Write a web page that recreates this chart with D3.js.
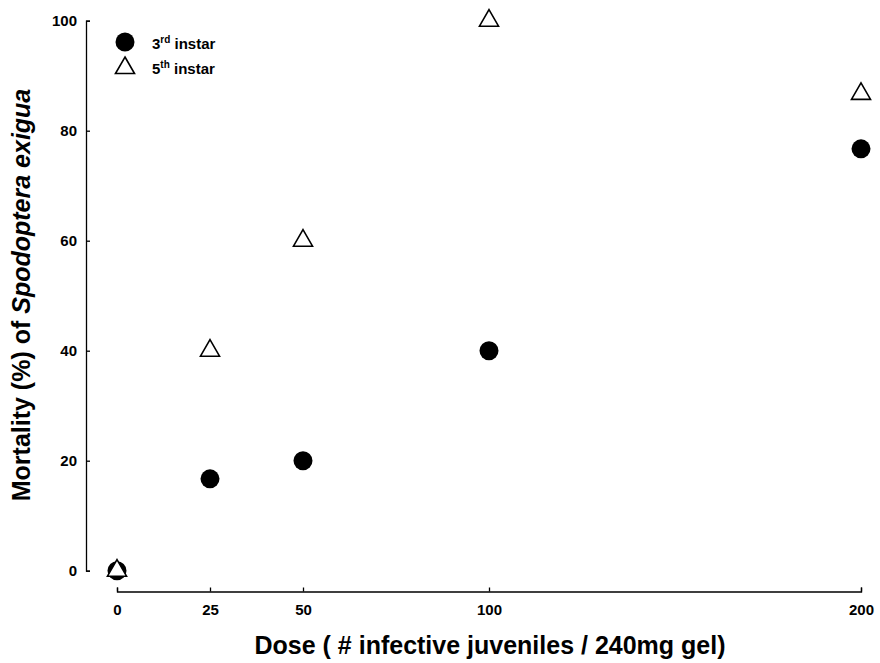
<!DOCTYPE html>
<html>
<head>
<meta charset="utf-8">
<script src="https://cdn.jsdelivr.net/npm/d3@7"></script>
<style>
  html, body { margin: 0; padding: 0; background: #fff; }
  svg { display: block; }
  text { font-family: "Liberation Sans", Arial, Helvetica, sans-serif; font-weight: bold; fill: #000; }
</style>
</head>
<body>
<svg id="chart" width="880" height="663"></svg>
<script>
// Dose levels (infective juveniles per 240 mg gel)
const doses = [0, 25, 50, 100, 200];
// Mortality (%) of Spodoptera exigua larvae
const instar3 = [0, 16.7, 20, 40, 76.7];
const instar5 = [0, 40, 60, 100, 86.7];
// Axis ticks
const xTicks = [0, 25, 50, 100, 200];
const yTicks = [0, 20, 40, 60, 80, 100];

const svg = d3.select("#chart");

const x = d3.scaleLinear().domain([0, 200]).range([117, 861]);
const y = d3.scaleLinear().domain([0, 100]).range([570.7, 20.7]);

const axisX = 86;      // position of the vertical axis line
const axisY = 591.5;   // position of the horizontal axis line

// Y axis with inward ticks
const gy = svg.append("g")
  .attr("transform", `translate(${axisX},0)`)
  .call(d3.axisLeft(y).tickValues(yTicks).tickSize(-4).tickSizeOuter(-4).tickPadding(9));
gy.selectAll("text").style("font-size", "15px");

// X axis with inward ticks
const gx = svg.append("g")
  .attr("transform", `translate(0,${axisY})`)
  .call(d3.axisBottom(x).tickValues(xTicks).tickSize(-4).tickSizeOuter(-4).tickPadding(13));
gx.selectAll("text").style("font-size", "15px");

svg.selectAll(".domain, .tick line").attr("stroke", "#000").attr("stroke-width", 1.3);

// Axis titles
svg.append("text")
  .attr("x", 490).attr("y", 654)
  .attr("text-anchor", "middle")
  .style("font-size", "25px")
  .text("Dose ( # infective juveniles / 240mg gel)");

const yTitle = svg.append("text")
  .attr("transform", "translate(30,295) rotate(-90)")
  .attr("text-anchor", "middle")
  .style("font-size", "25px");
yTitle.append("tspan").text("Mortality (%) of ");
yTitle.append("tspan").style("font-style", "italic").text("Spodoptera exigua");

// Markers
const tri = d3.symbol().type(d3.symbolTriangle).size(157);
const r = 9.5;

const pts3 = doses.map((d, i) => ({ dose: d, v: instar3[i] }));
const pts5 = doses.map((d, i) => ({ dose: d, v: instar5[i] }));

svg.append("g").selectAll("circle")
  .data(pts3).join("circle")
  .attr("cx", d => x(d.dose))
  .attr("cy", d => y(d.v))
  .attr("r", r)
  .attr("fill", "#000");

svg.append("g").selectAll("path")
  .data(pts5).join("path")
  .attr("d", tri)
  .attr("transform", d => `translate(${x(d.dose)},${y(d.v)})`)
  .attr("fill", "#fff")
  .attr("stroke", "#000")
  .attr("stroke-width", 1.6);

// Legend
const legend = svg.append("g");
legend.append("circle").attr("cx", 125).attr("cy", 42).attr("r", r).attr("fill", "#000");
legend.append("path").attr("d", tri)
  .attr("transform", "translate(125,68)")
  .attr("fill", "#fff").attr("stroke", "#000").attr("stroke-width", 1.6);

const l1 = legend.append("text").attr("x", 152).attr("y", 49).style("font-size", "15px");
l1.append("tspan").text("3");
l1.append("tspan").attr("dy", -6).style("font-size", "10px").text("rd");
l1.append("tspan").attr("dy", 6).text(" instar");

const l2 = legend.append("text").attr("x", 152).attr("y", 74).style("font-size", "15px");
l2.append("tspan").text("5");
l2.append("tspan").attr("dy", -6).style("font-size", "10px").text("th");
l2.append("tspan").attr("dy", 6).text(" instar");
</script>
</body>
</html>
